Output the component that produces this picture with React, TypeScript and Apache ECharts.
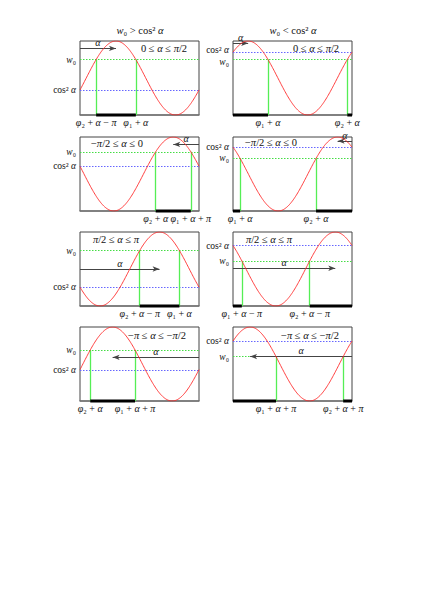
import React, { useEffect, useRef } from 'react';
import * as echarts from 'echarts';

// panel parameters (row-major: left, right)
const alphas = [0.95, 0.40, -0.68, -0.38, 2.10, 2.70, -2.28, -2.69];
const w0s = [0.75, 0.75, 0.80, 0.71, 0.75, 0.61, 0.69, 0.60];
const arrowLevels = [0.90, 0.97, 0.90, 0.945, 0.50, 0.51, 0.59, 0.60];
const arrowFromRight = [false, false, true, true, false, false, true, true];
const rangeTexts = [
  '0 ≤ α ≤ π/2', '0 ≤ α ≤ π/2',
  '−π/2 ≤ α ≤ 0', '−π/2 ≤ α ≤ 0',
  'π/2 ≤ α ≤ π', 'π/2 ≤ α ≤ π',
  '−π ≤ α ≤ −π/2', '−π ≤ α ≤ −π/2',
];
const xTickLabels = [
  ['φ₂ + α − π', 'φ₁ + α'],
  ['φ₁ + α', 'φ₂ + α'],
  ['φ₂ + α', 'φ₁ + α + π'],
  ['φ₁ + α', 'φ₂ + α'],
  ['φ₂ + α − π', 'φ₁ + α'],
  ['φ₁ + α − π', 'φ₂ + α − π'],
  ['φ₂ + α', 'φ₁ + α + π'],
  ['φ₁ + α + π', 'φ₂ + α + π'],
];
const yTickLabels = ['w₀', 'cos² α'];
const titles = ['w₀ > cos² α', 'w₀ < cos² α'];

// layout
const FONT = 'Liberation Serif';
const gridLefts = [80, 233];
const gridTops = [41, 137, 232, 327];
const gridW = 119;
const gridH = 74;
const rangeOffsets = [
  [84, 7], [83, 7], [37, 6], [38, 5], [36, 7], [36, 7], [77, 8], [77, 8],
];
// vertical label nudge (px) for the two y labels where they sit very close
const labelNudge = [0, 2, 0, 0, 0, 0, 0, 0];

// split text into italic (variables) and upright runs for rich text
const it = (s: string) =>
  s
    .split(/([φαπw])/)
    .filter((p) => p.length > 0)
    .map((p) => (/^[φαπw]$/.test(p) ? `{i|${p}}` : `{n|${p}}`))
    .join('');
const rich = (size: number, lh?: number) => ({
  i: { fontStyle: 'italic', fontFamily: FONT, fontSize: size, color: '#111', lineHeight: lh },
  n: { fontStyle: 'normal', fontFamily: FONT, fontSize: size, color: '#111', lineHeight: lh },
});

export default function App() {
  const ref = useRef<HTMLDivElement>(null);
  useEffect(() => {
    const chart = echarts.init(ref.current!, null, { renderer: 'svg' });
    const grids: any[] = [];
    const xAxes: any[] = [];
    const yAxes: any[] = [];
    const series: any[] = [];
    const graphics: any[] = [];
    const PI = Math.PI;

    alphas.forEach((alpha, k) => {
      const col = k % 2;
      const row = Math.floor(k / 2);
      const left = gridLefts[col];
      const top = gridTops[row];
      const w0 = w0s[k];
      const c = Math.cos(alpha) ** 2;
      const peak = ((alpha % PI) + PI) % PI;
      const d = Math.acos(Math.sqrt(w0));
      const a = peak - d;
      const b = peak + d;
      const cross = [a, b].map((v) => ((v % PI) + PI) % PI).sort((p, q) => p - q);
      let segs: number[][];
      if (a >= 0 && b <= PI) segs = [[a, b]];
      else if (a < 0) segs = [[0, b], [a + PI, PI]];
      else segs = [[0, b - PI], [a, PI]];

      grids.push({
        left, top, width: gridW, height: gridH,
        show: true, borderColor: '#444', borderWidth: 1, backgroundColor: 'transparent',
      });
      const labs = xTickLabels[k];
      xAxes.push({
        type: 'value', gridIndex: k, min: 0, max: PI,
        axisLine: { show: true, lineStyle: { color: '#777', width: 1.5 } },
        axisTick: { show: false },
        splitLine: { show: false },
        axisLabel: {
          customValues: cross, hideOverlap: false,
          formatter: (v: number) => it(Math.abs(v - cross[0]) < Math.abs(v - cross[1]) ? labs[0] : labs[1]),
          fontFamily: FONT, fontSize: 10, color: '#111', margin: 2, rich: rich(10),
        },
      });
      // two label-only y axes per panel: one for w0, one for cos^2 alpha
      const nud = labelNudge[k];
      [w0, c].forEach((val, j) => {
        const upper = (j === 1) === (c > w0);
        const pad = nud === 0 ? 0 : upper ? [0, 0, 2 * nud, 0] : [2 * nud, 0, 0, 0];
        yAxes.push({
          type: 'value', gridIndex: k, min: 0, max: 1, position: 'left', offset: 0,
          axisLine: { show: false },
          axisTick: { show: false },
          splitLine: { show: false },
          axisLabel: {
            customValues: [val], hideOverlap: false,
            formatter: () => it(yTickLabels[j]),
            fontFamily: FONT, fontSize: 9.5, lineHeight: 7, color: '#111', margin: 4,
            padding: pad,
            rich: rich(9.5, 7),
          },
        });
      });
      const yi = 2 * k;

      const curve: number[][] = [];
      for (let i = 0; i <= 160; i++) {
        const phi = (i / 160) * PI;
        curve.push([phi, Math.cos(phi - alpha) ** 2]);
      }
      const ay = arrowLevels[k];
      const ax0 = arrowFromRight[k] ? PI : 0;
      const ax1 = arrowFromRight[k] ? alpha + PI : alpha;
      series.push({
        type: 'line', xAxisIndex: k, yAxisIndex: yi, data: curve, showSymbol: false,
        lineStyle: { color: '#ff2a2a', width: 0.9 }, z: 5, silent: true,
        markLine: {
          silent: true, symbol: ['none', 'none'], animation: false,
          label: { show: false },
          data: [
            { yAxis: w0, lineStyle: { color: '#44dd44', width: 1, type: [1.5, 1.5] } },
            { yAxis: c, lineStyle: { color: '#6666ff', width: 1, type: [1.5, 1.5] } },
            ...cross.map((x) => [
              { coord: [x, 0], lineStyle: { color: '#55ee55', width: 1.3, type: 'solid' } },
              { coord: [x, w0] },
            ]),
            [
              {
                coord: [ax0, ay], symbol: 'none',
                lineStyle: { color: '#444', width: 1, type: 'solid' },
                label: {
                  show: true, position: 'middle', formatter: '{i|α}', distance: 1,
                  fontFamily: FONT, fontSize: 10, color: '#111', rich: rich(10),
                },
              },
              { coord: [ax1, ay], symbol: 'arrow', symbolSize: [4, 7] },
            ],
          ],
        },
      });
      segs.forEach((s) => {
        series.push({
          type: 'line', xAxisIndex: k, yAxisIndex: yi, data: [[s[0], 0], [s[1], 0]],
          showSymbol: false, clip: false, silent: true, z: 6,
          lineStyle: { color: '#000', width: 3 },
        });
      });
      graphics.push({
        type: 'text', x: left + rangeOffsets[k][0], y: top + rangeOffsets[k][1],
        style: {
          text: it(rangeTexts[k]), align: 'center', verticalAlign: 'middle',
          fontFamily: FONT, fontSize: 10.5, fill: '#111', rich: rich(10.5),
        },
      });
    });

    titles.forEach((t, i) => {
      graphics.push({
        type: 'text', x: gridLefts[i] + 60, y: 30,
        style: {
          text: it(t), align: 'center', verticalAlign: 'middle',
          fontFamily: FONT, fontSize: 10.5, fill: '#111', rich: rich(10.5),
        },
      });
    });

    chart.setOption({
      animation: false,
      backgroundColor: '#fff',
      textStyle: { fontFamily: FONT },
      grid: grids,
      xAxis: xAxes,
      yAxis: yAxes,
      series,
      graphic: graphics,
    });
    return () => chart.dispose();
  }, []);
  return (
    <div
      ref={ref}
      style={{ position: 'fixed', left: 0, top: 0, width: 436, height: 616, background: '#fff' }}
    />
  );
}
